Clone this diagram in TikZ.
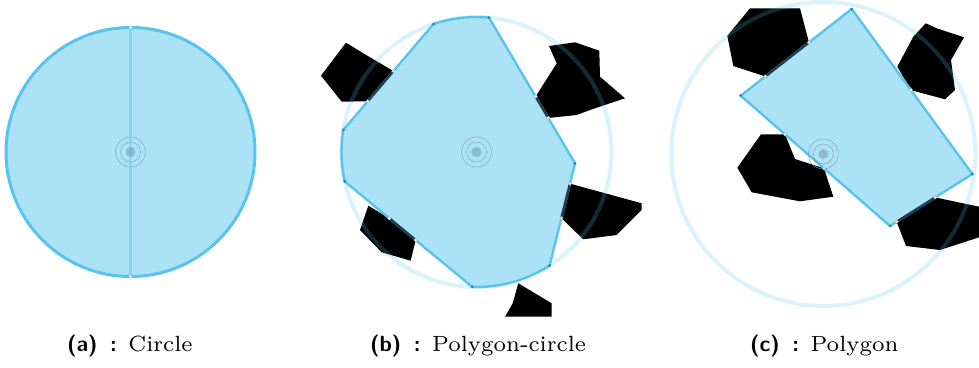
\documentclass[tikz,border=0pt]{standalone}
\usepackage{graphicx}
\usetikzlibrary{calc}
\definecolor{skyb}{RGB}{88,196,238}
\definecolor{polyfill}{RGB}{172,226,246}
\definecolor{contact}{RGB}{30,62,78}
\definecolor{vdotc}{RGB}{45,125,165}
\definecolor{ringc}{RGB}{120,160,185}
\newcommand{\ctrmark}[1]{%
  \fill[ringc, opacity=0.6] (#1) circle[radius=5];
  \draw[ringc, line width=0.45] (#1) circle[radius=10] (#1) circle[radius=15];}
\newcommand{\sublab}[2]{%
  {\fontsize{22}{26}\selectfont\sffamily\bfseries (#1)}\hspace{12.5pt}%
  {\fontsize{22}{26}\selectfont\sffamily\bfseries :}\hspace{11.5pt}%
  \scalebox{3.143}{\fontsize{7}{8}\selectfont #2}}
\begin{document}
\begin{tikzpicture}[x=1pt,y=-1pt,
  obst/.style={fill=black},
  halo/.style={draw=skyb, draw opacity=0.22, line width=4},
  region/.style={fill=polyfill, draw=skyb, line width=2.4, line join=round},
  touch/.style={draw=contact, line width=2.4},
  vdot/.style={circle, fill=vdotc, inner sep=0pt, minimum size=3pt},
  cdot/.style={circle, fill=white, draw=gray!70, line width=0.3pt, inner sep=0pt, minimum size=3.5pt},
  captext/.style={anchor=base west, inner sep=0pt}]
\useasboundingbox (0,0) rectangle (979,367);

% ---------------- (a) Circle ----------------
\coordinate (Ca) at (130.5,152);
\coordinate (atop) at (130.5,27.5);
\coordinate (abot) at (130.5,276.5);
\draw[region, line width=3] (Ca) circle[radius=124.5];
\draw[skyb, draw opacity=0.45, line width=2.4] (atop) -- (abot);
\node[cdot] at (atop) {};
\node[cdot] at (abot) {};
\ctrmark{Ca}

% ---------------- (b) Polygon-circle ----------------
\coordinate (Cb) at (476.5,152);
\coordinate (V1) at ($(Cb)+(-108.6:135)$);
\coordinate (V2) at ($(Cb)+(-84.7:135)$);
\coordinate (V3) at (575,163.3);
\coordinate (V4) at ($(Cb)+(57.2:135)$);
\coordinate (V5) at ($(Cb)+(91.8:135)$);
\coordinate (V6) at ($(Cb)+(167.4:135)$);
\coordinate (V7) at ($(Cb)+(189.4:135)$);
\coordinate (b1) at ($(V7)!0.271!(V1)$);
\coordinate (b2) at ($(V7)!0.556!(V1)$);
\coordinate (b3) at ($(V2)!0.542!(V3)$);
\coordinate (b4) at ($(V2)!0.689!(V3)$);
\coordinate (b5) at ($(V3)!0.199!(V4)$);
\coordinate (b6) at ($(V3)!0.537!(V4)$);
\coordinate (b7) at ($(V5)!0.444!(V6)$);
\coordinate (b8) at ($(V5)!0.651!(V6)$);

\fill[obst] (346,42.7) -- (363.3,53.3) -- (b2) -- (b1) -- (341.7,101.7) -- (321,75.7) -- cycle;
\fill[obst] (549,46) -- (575,42.3) -- (599.3,50.7) -- (600,76.7) -- (625,98.3) -- (590,110) -- (576.7,115) -- (b4) -- (b3) -- (556.7,63.3) -- cycle;
\fill[obst] (b5) -- (641.7,203.3) -- (641.7,210) -- (616.7,235) -- (583.3,239.3) -- (b6) -- cycle;
\fill[obst] (368.3,205.7) -- (b8) -- (b7) -- (410.7,260.7) -- (381.7,252.3) -- (360,230) -- cycle;
\fill[obst] (518.3,283.3) -- (551.7,303.3) -- (551.7,316.7) -- (505,316.7) -- (512.7,303.3) -- cycle;

\draw[halo] (Cb) circle[radius=135];
\draw[region] (V1) arc[start angle=-108.6, end angle=-84.7, radius=135]
  -- (V3) -- (V4) arc[start angle=57.2, end angle=91.8, radius=135]
  -- (V6) arc[start angle=167.4, end angle=189.4, radius=135] -- cycle;
\draw[touch] (b1) -- (b2);
\draw[touch] (b3) -- (b4);
\draw[touch] (b5) -- (b6);
\draw[touch] (b7) -- (b8);
\foreach \v in {V1,V2,V3,V4,V5,V6,V7} \node[vdot] at (\v) {};
\foreach \v in {b1,b2,b3,b4,b5,b6,b7,b8} \node[cdot] at (\v) {};
\ctrmark{Cb}

% ---------------- (c) Polygon ----------------
\coordinate (Cc) at (823.3,154);
\coordinate (P1) at (851.7,9);
\coordinate (P2) at (972.3,174);
\coordinate (P3) at (890,226);
\coordinate (P4) at (740.7,95.7);
\coordinate (c1) at ($(P4)!0.222!(P1)$);
\coordinate (c2) at ($(P4)!0.615!(P1)$);
\coordinate (c3) at ($(P1)!0.492!(P2)$);
\coordinate (c4) at ($(P2)!0.45!(P3)$);
\coordinate (c5) at ($(P2)!0.919!(P3)$);
\coordinate (c6) at ($(P3)!0.442!(P4)$);
\coordinate (c7) at ($(P3)!0.703!(P4)$);

\fill[obst] (750,8.3) -- (800,8.3) -- (c2) -- (c1) -- (733.3,66) -- (727.3,36) -- cycle;
\fill[obst] (925.7,23.3) -- (936.7,28.3) -- (964,37.3) -- (951,60) -- (955,90) -- (945,99.3) -- (c3) -- (897.3,66.7) -- (913.3,36.7) -- cycle;
\fill[obst] (761,134.3) -- (c7) -- (795,159) -- (c6) -- (833.3,196.7) -- (800,201.3) -- (751.7,192.3) -- (737.3,167.7) -- cycle;
\fill[obst] (c4) -- (979,206.7) -- (979,237.3) -- (940,250) -- (906,246) -- (c5) -- cycle;

\draw[halo] (Cc) circle[radius=152];
\draw[region] (P1) -- (P2) -- (P3) -- (P4) -- cycle;
\draw[touch] (c1) -- (c2);
\draw[touch] (c4) -- (c5);
\foreach \v in {P1,P2,P3,P4} \node[vdot] at (\v) {};
\foreach \v in {c1,c2,c3,c4,c5,c6,c7} \node[cdot] at (\v) {};
\ctrmark{Cc}

% ---------------- captions ----------------
\node[captext] (capa) at (67,351.7) {\sublab{a}{Circle}};
\node[captext] (capb) at (370,351.7) {\sublab{b}{Polygon-circle}};
\node[captext] (capc) at (750,351.7) {\sublab{c}{Polygon}};
\end{tikzpicture}
\end{document}
